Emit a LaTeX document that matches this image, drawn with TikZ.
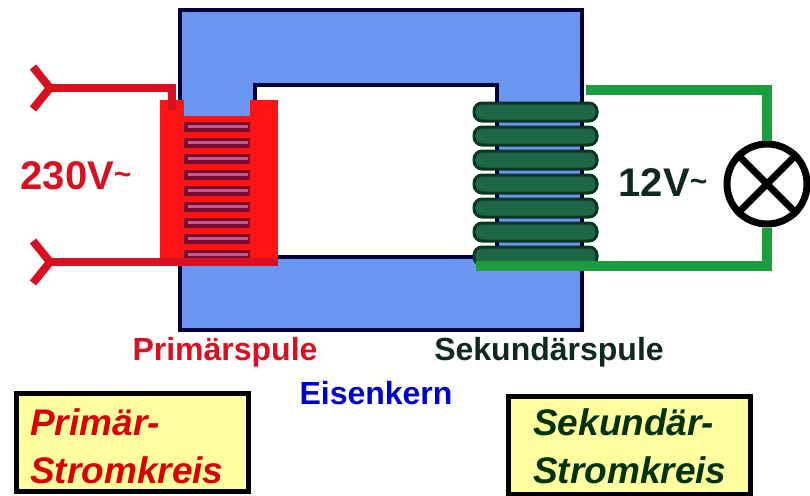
\documentclass[tikz,border=0pt]{standalone}
\usepackage{fontspec}
\setmainfont{Liberation Sans}
\usetikzlibrary{calc}
\definecolor{corefill}{HTML}{6A96F0}
\definecolor{coreedge}{HTML}{00003A}
\definecolor{wirered}{HTML}{D81020}
\definecolor{coilred}{HTML}{FF1414}
\definecolor{coildark}{HTML}{7A0A30}
\definecolor{coilpink}{HTML}{C05A8C}
\definecolor{wiregreen}{HTML}{1E9C40}
\definecolor{coilgreen}{HTML}{1D6646}
\definecolor{coilgreenedge}{HTML}{0A3520}
\definecolor{darktext}{HTML}{102820}
\definecolor{boxyellow}{HTML}{FFFFA0}
\tikzstyle{core} = [fill=corefill, draw=coreedge, line width=4pt, even odd rule]
\tikzstyle{primwire} = [draw=wirered, line width=8pt, line join=miter]
\tikzstyle{secwire} = [draw=wiregreen, line width=10pt, line join=miter]
\tikzstyle{turn} = [fill=coilgreen, draw=coilgreenedge, line width=3pt, rounded corners=8pt]
\tikzstyle{lamp} = [circle, draw=black, fill=white, line width=7pt, minimum size=80pt, inner sep=0pt]
\tikzstyle{volts} = [inner sep=0pt, font=\bfseries\fontsize{40}{40}\selectfont]
\tikzstyle{partname} = [inner sep=0pt, font=\bfseries\fontsize{32}{32}\selectfont]
\tikzstyle{circuitbox} = [draw=black, fill=boxyellow, line width=5pt, anchor=north west, inner sep=0pt]
\tikzstyle{boxtext} = [inner sep=0pt, align=left, anchor=base west, font=\bfseries\itshape\fontsize{37}{48}\selectfont]
\newcommand{\chevx}{17}
\newcommand{\chevy}{21}
\newcommand{\acsign}{\raisebox{5pt}{\fontsize{30}{30}\selectfont\char"7E}}

\begin{document}
\begin{tikzpicture}[x=1pt, y=-1pt]
  \useasboundingbox (0,0) rectangle (810,495);

  \coordinate (topIn) at (50,88);
  \coordinate (botIn) at (50,262);
  \coordinate (primTop) at (172,88);
  \coordinate (primBot) at (278,262);
  \coordinate (secTop) at (586,90);
  \coordinate (secBot) at (476,266);

  % Iron core with its window
  \draw[core] (180,10) rectangle (582,330) (255,85) rectangle (497,257);

  % Primary coil
  \fill[coilred] (160,100) rectangle (184,266);
  \fill[coilred] (250,100) rectangle (278,264);
  \fill[coildark] (184,116) rectangle (250,262);
  \foreach \i in {0,...,8} {
    \fill[coilred] (184,{116+16*\i}) rectangle (250,{122+16*\i});
    \fill[coilpink] (188,{125+16*\i}) rectangle (248,{128+16*\i});
  }

  % Secondary coil
  \foreach \i in {0,...,6}
    \draw[turn] (474,{103+24*\i}) rectangle (597,{121+24*\i});

  % Primary circuit
  \draw[primwire] ([xshift=-\chevx, yshift=-\chevy]topIn) -- (topIn) -- ([xshift=-\chevx, yshift=\chevy]topIn);
  \draw[primwire] ([xshift=-\chevx, yshift=-\chevy]botIn) -- (botIn) -- ([xshift=-\chevx, yshift=\chevy]botIn);
  \draw[primwire] (topIn) -- (primTop) -- ++(0,22);
  \draw[primwire] (botIn) -- (primBot);

  % Lamp
  \node[lamp] (lamp) at (767,184) {};
  \draw[line width=7pt] (lamp.north west) -- (lamp.south east);
  \draw[line width=7pt] (lamp.south west) -- (lamp.north east);

  % Secondary circuit
  \draw[secwire] (secTop) -| (lamp.north);
  \draw[secwire] (lamp.south) |- (secBot);

  % Voltages
  \node[volts, text=wirered] (primVolts) at (76,176) {230V\acsign};
  \node[volts, text=darktext] (secVolts) at (663,183) {12V\acsign};

  % Part names
  \node[partname, text=wirered] (primName) at (225,352) {Primärspule};
  \node[partname, text=darktext] (secName) at (549,352) {Sekundärspule};
  \node[partname, text=blue!80!black] (coreName) at (376,393) {Eisenkern};

  % Circuit boxes
  \node[circuitbox, minimum width=232pt, minimum height=98pt] (primBox) at (14,391) {};
  \node[boxtext, text=red!85!black] (primText) at (30,483) {Primär-\\Stromkreis};
  \node[circuitbox, minimum width=242pt, minimum height=98pt] (secBox) at (506,394) {};
  \node[boxtext, text=darktext!60!green!40!black] (secText) at (533,483) {Sekundär-\\Stromkreis};

\end{tikzpicture}
\end{document}
